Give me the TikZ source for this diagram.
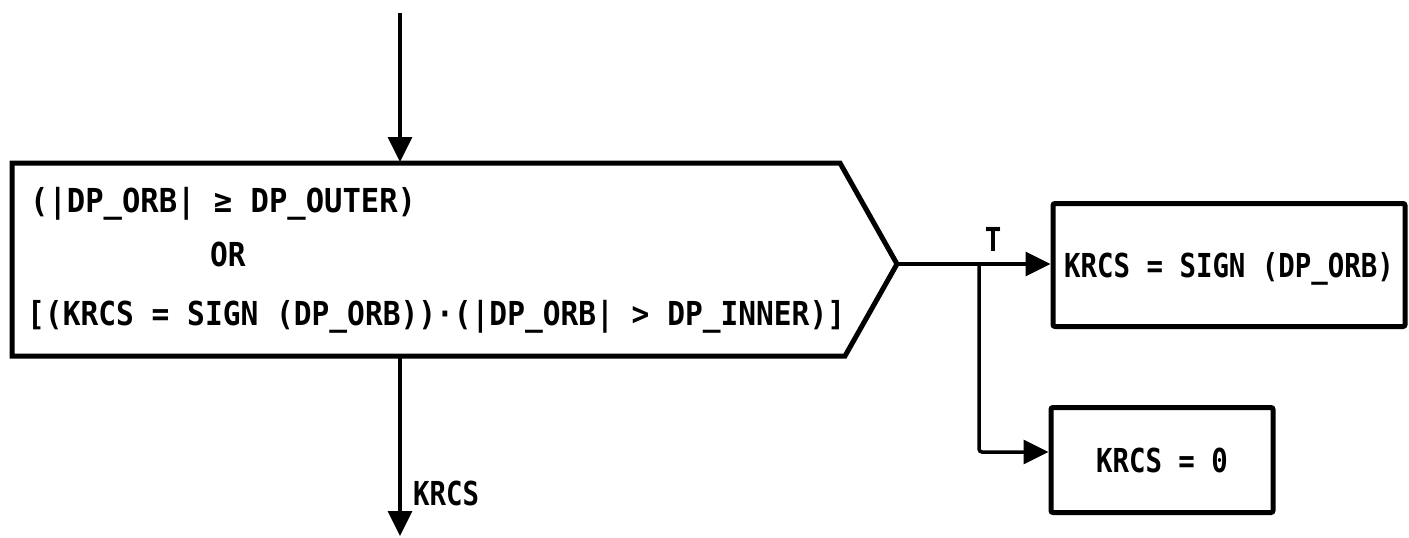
\documentclass[tikz,border=0pt]{standalone}
\usepackage{fontspec}
\usetikzlibrary{arrows.meta}
\newfontfamily\condfont{DejaVu Sans Mono}[FakeStretch=0.895]
\newfontfamily\widefont{DejaVu Sans Mono}[FakeStretch=0.925]
\newfontfamily\boxfont{DejaVu Sans Mono}[FakeStretch=0.83]
\tikzset{
  conn/.style={line width=3.5pt, -{Triangle[length=25pt,width=24pt]}},
  shapeline/.style={line width=5pt, line join=miter},
  boxstyle/.style={draw, line width=5pt, rounded corners=2pt, inner sep=0pt,
    text height=24pt, text depth=0pt, font=\boxfont\bfseries\fontsize{33}{33}\selectfont},
  condtext/.style={inner sep=0pt, anchor=west, text height=24pt, text depth=0pt,
    font=\condfont\bfseries\fontsize{33}{33}\selectfont},
  labeltext/.style={inner sep=0pt, text height=24pt, text depth=0pt,
    font=\boxfont\bfseries\fontsize{33}{33}\selectfont},
}
\begin{document}
\begin{tikzpicture}[x=1pt, y=-1pt]
\useasboundingbox (0,0) rectangle (1409,538);

% decision shape
\coordinate (tip) at (897,264);
\draw[shapeline] (12,163) -- (840,163) -- (tip) -- (845,356) -- (12,356) -- cycle;
\coordinate (topin) at (400,162);
\coordinate (botout) at (400,356);
\coordinate (src) at (400,13);
\coordinate (dst) at (400,536);
\coordinate (br) at (979,264);

\node[condtext, font=\widefont\bfseries\fontsize{33}{33}\selectfont] (l1) at (30,200) {(|DP\_ORB| ≥ DP\_OUTER)};
\node[condtext] (lor) at (210,254) {OR};
\node[condtext] (l3) at (27,313) {[(KRCS = SIGN (DP\_ORB))·(|DP\_ORB| > DP\_INNER)]};

% boxes
\node[boxstyle, minimum width=352pt, minimum height=123pt] (b1) at (1229,265) {KRCS = SIGN (DP\_ORB)};
\node[boxstyle, minimum width=222pt, minimum height=105pt] (b2) at (1162,460) {KRCS = 0};

% labels
\node[labeltext] (tlab) at (993,239) {T};
\node[labeltext, anchor=west] (klab) at (413,493) {KRCS};

% connectors
\draw[conn] (src) -- (topin);
\draw[conn] (botout) -- (dst);
\draw[conn] (tip) -- (tip -| b1.west);
\draw[conn, rounded corners=3pt] (br) |- ([yshift=8pt]b2.west);
\end{tikzpicture}
\end{document}
